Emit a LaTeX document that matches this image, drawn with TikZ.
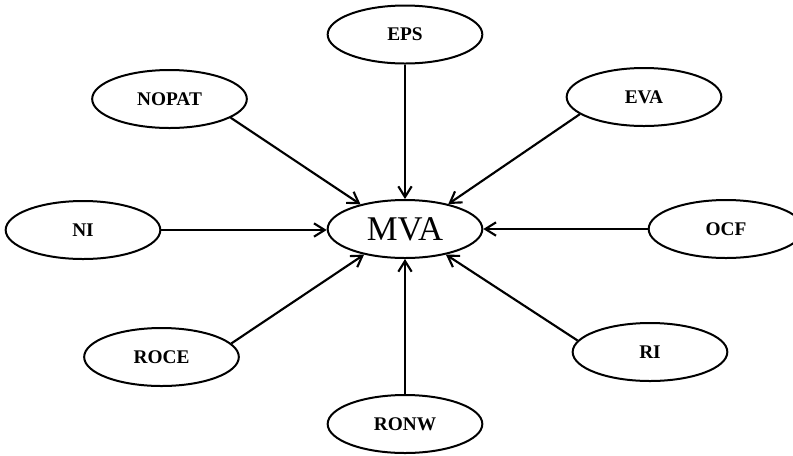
\documentclass[tikz,border=0pt]{standalone}
\usepackage{fontspec}
\newfontfamily\labelfont{Liberation Serif}
\usetikzlibrary{shapes.geometric,arrows.meta}
\tikzset{
  oval/.style={ellipse, draw=black, line width=1.5pt, minimum width=116pt,
    minimum height=43.5pt, inner sep=0pt, font=\labelfont\bfseries\fontsize{14.5}{16}\selectfont},
  hub/.style={oval, font=\labelfont\fontsize{26}{28}\selectfont},
  feed/.style={draw=black, line width=1.6pt, -{Straight Barb[length=8pt,width=10pt,line width=1.6pt]}},
}
\begin{document}
\begin{tikzpicture}[x=0.75pt,y=-0.75pt]
  \useasboundingbox (0,0) rectangle (793,455);
  % outer measures
  \node[oval] (eps)   at (405,34.5) {EPS};
  \node[oval] (nopat) at (169.5,99) {NOPAT};
  \node[oval] (eva)   at (644,97)   {EVA};
  \node[oval] (ni)    at (83,230)   {NI};
  \node[oval] (ocf)   at (726,229)  {OCF};
  \node[oval] (roce)  at (161.5,357){ROCE};
  \node[oval] (ri)    at (650,352)  {RI};
  \node[oval] (ronw)  at (405,424)  {RONW};
  % central measure
  \node[hub]  (mva)   at (405,229)  {MVA};
  % connectors into MVA
  \draw[feed] (eps.south)  -- (mva.north);
  \draw[feed] (nopat.-17)  -- (mva.151);
  \draw[feed] (eva.195)    -- (mva.30);
  \draw[feed] (ni.east)    -- (ni.east -| mva.west);
  \draw[feed] (ocf.west)   -- (mva.east);
  \draw[feed] (roce.11)    -- (mva.212);
  \draw[feed] (ri.171)     -- (mva.-32);
  \draw[feed] (ronw.north) -- (mva.south);
\end{tikzpicture}
\end{document}
